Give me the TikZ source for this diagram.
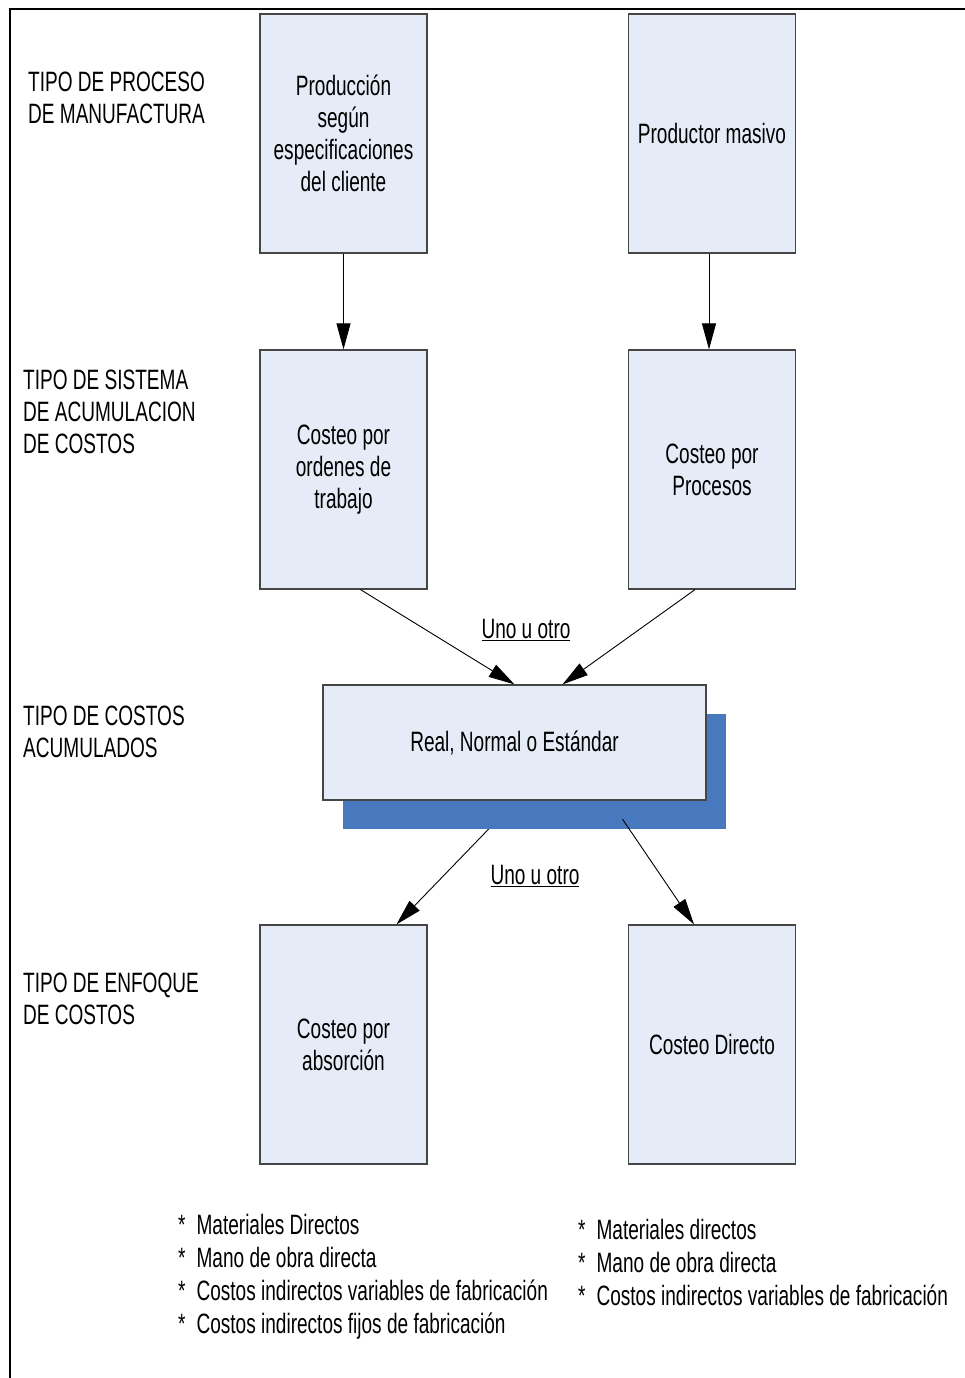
\documentclass[tikz,border=0pt]{standalone}
\usepackage{fontspec}
\setmainfont[FakeStretch=0.68]{Liberation Sans}
\usetikzlibrary{arrows.meta}
\definecolor{boxfill}{RGB}{230,236,247}
\definecolor{shadowblue}{RGB}{72,120,190}
\definecolor{boxline}{RGB}{70,70,70}
\begin{document}
\begin{tikzpicture}[x=1pt,y=-1pt,
  every node/.style={font=\fontsize{28}{32}\selectfont, inner sep=0pt},
  stagebox/.style={draw=boxline, line width=1.2pt, fill=boxfill, align=center,
    minimum width=167pt, minimum height=239pt},
  widebox/.style={draw=boxline, line width=1.2pt, fill=boxfill, align=center,
    minimum width=383pt, minimum height=115pt},
  shadowbox/.style={fill=shadowblue, minimum width=383pt, minimum height=115pt},
  rowlabel/.style={anchor=west, align=left},
  flow/.style={draw=black, line width=0.9pt, -{Triangle[length=26pt,width=14pt]}},
  choice/.style={align=center},
  costlist/.style={anchor=west, align=left, font=\fontsize{28}{33}\selectfont}]
\useasboundingbox (0,0) rectangle (964,1378);
\fill[white] (0,0) rectangle (964,1378);

% page frame, open to the right and bottom
\draw[line width=2.5pt] (10,1400) -- (10,9) -- (990,9);

% row captions
\node[rowlabel] (l1) at (28,98) {TIPO DE PROCESO\\DE MANUFACTURA};
\node[rowlabel] (l2) at (23,412) {TIPO DE SISTEMA\\DE ACUMULACION\\DE COSTOS};
\node[rowlabel] (l3) at (23,732) {TIPO DE COSTOS\\ACUMULADOS};
\node[rowlabel] (l4) at (23,999) {TIPO DE ENFOQUE\\DE COSTOS};

% boxes
\node[stagebox] (b1) at (343.5,133.5) {Producción\\según\\especificaciones\\del cliente};
\node[stagebox] (b2) at (712,133.5) {Productor masivo};
\node[stagebox] (b3) at (343.5,469.5) {Costeo por\\ordenes de\\trabajo};
\node[stagebox] (b4) at (712,469.5) {Costeo por\\Procesos};
\node[shadowbox] (sh) at (534.5,771.5) {};
\node[widebox] (main) at (514.5,742.5) {Real, Normal o Estándar};
\node[stagebox] (b5) at (343.5,1044.5) {Costeo por\\absorción};
\node[stagebox] (b6) at (712,1044.5) {Costeo Directo};

% connectors
\draw[flow] (b1.south) -- (b3.north);
\draw[flow] ([xshift=-3pt]b2.south) -- ([xshift=-3pt]b4.north);
\draw[flow] ([xshift=17pt]b3.south) -- (main.north);
\draw[flow] ([xshift=-17pt]b4.south) -- ([xshift=48pt]main.north);
\draw[flow] ([xshift=-46pt]sh.south) -- ([xshift=53pt]b5.north);
\draw[flow] ([xshift=88pt,yshift=10pt]sh.south) -- ([xshift=-18pt]b6.north);

% choice labels
\node[choice] (c1) at (526,630) {\underline{Uno u otro}};
\node[choice] (c2) at (535,876) {\underline{Uno u otro}};

% cost components
\node[costlist] (k1) at (178,1277) {*\hspace{11pt}Materiales Directos\\*\hspace{11pt}Mano de obra directa\\*\hspace{11pt}Costos indirectos variables de fabricación\\*\hspace{11pt}Costos indirectos fijos de fabricación};
\node[costlist] (k2) at (578,1262) {*\hspace{11pt}Materiales directos\\*\hspace{11pt}Mano de obra directa\\*\hspace{11pt}Costos indirectos variables de fabricación};
\end{tikzpicture}
\end{document}
